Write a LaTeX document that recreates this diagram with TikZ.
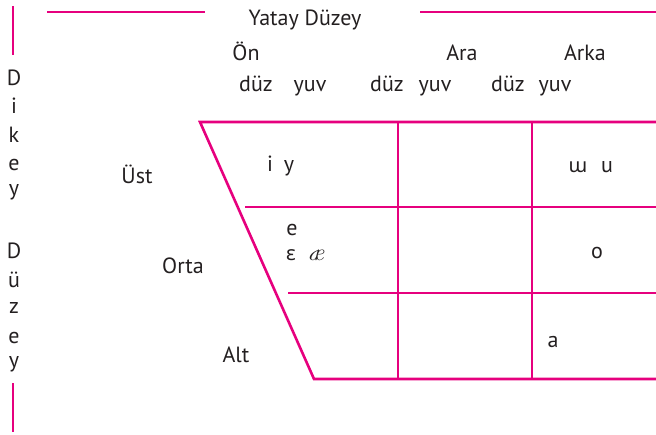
\documentclass[tikz,border=0pt]{standalone}
\usepackage{fontspec}
\setmainfont{PT Sans}
\newfontfamily\ipafont{Noto Sans}
\newfontfamily\aefont{Latin Modern Roman}
\definecolor{pinkline}{RGB}{230,0,126}
\definecolor{txt}{RGB}{35,31,32}
\begin{document}
\begin{tikzpicture}[x=1pt,y=-1pt,
  ln/.style={draw=pinkline,line width=2.6pt},
  lbl/.style={text=txt,inner sep=0pt,anchor=base,font=\fontsize{22}{26}\selectfont},
  ipa/.style={lbl,font=\ipafont\fontsize{20}{24}\selectfont},
  aest/.style={lbl,font=\aefont\itshape\fontsize{24}{28}\selectfont}]
\useasboundingbox (0,0) rectangle (656,434);
% top horizontal lines
\draw[ln] (47,12) -- (205,12);
\draw[ln] (420,12) -- (656,12);
\node[lbl] (yatay) at (305,25) {Yatay Düzey};
% left vertical lines
\draw[ln] (13,6) -- (13,55);
\draw[ln] (13,383) -- (13,432);
\foreach \t/\yy [count=\i] in {D/85,i/113,k/142,e/170,y/195,D/258,ü/287,z/313,e/343,y/367}
  \node[lbl] (v\i) at (14,\yy) {\t};
% column headers
\node[lbl] (on) at (246,60) {Ön};
\node[lbl] (ara) at (462,60) {Ara};
\node[lbl] (arka) at (585,60) {Arka};
\node[lbl] (d1) at (256,91) {düz};
\node[lbl] (y1) at (310,91) {yuv};
\node[lbl] (d2) at (387,91) {düz};
\node[lbl] (y2) at (435,91) {yuv};
\node[lbl] (d3) at (508,91) {düz};
\node[lbl] (y3) at (555,91) {yuv};
% chart
\coordinate (tl) at (200,122);
\coordinate (bl) at (314,379);
\draw[ln] (656,122) -- (tl) -- (bl) -- (656,379);
\draw[ln] (245,207) -- (656,207);
\draw[ln] (288,293) -- (656,293);
\draw[ln] (398,122) -- (398,379);
\draw[ln] (532,122) -- (532,379);
% row labels
\node[lbl] (ust) at (137,183) {Üst};
\node[lbl] (orta) at (183,273) {Orta};
\node[lbl] (alt) at (236,362) {Alt};
% vowels
\node[lbl] (vi) at (270,171) {i};
\node[lbl] (vy) at (289,171) {y};
\node[ipa] (vw) at (578,172) {ɯ};
\node[lbl] (vu) at (607,172) {u};
\node[lbl] (ve) at (292,235) {e};
\node[ipa] (veps) at (291,260) {ɛ};
\node[aest] (vae) at (316,260) {æ};
\node[lbl] (vo) at (597,258) {o};
\node[lbl] (va) at (553,347) {a};
\end{tikzpicture}
\end{document}
